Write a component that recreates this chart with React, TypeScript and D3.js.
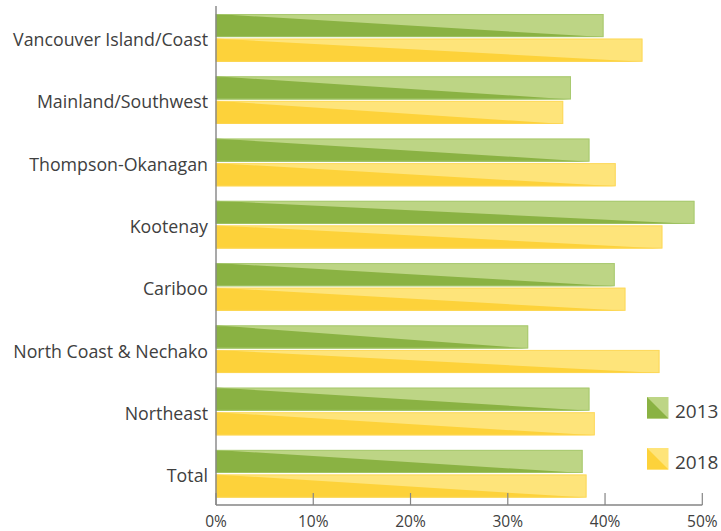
import React from "react";
import * as d3 from "d3";

const categories = [
  "Vancouver Island/Coast",
  "Mainland/Southwest",
  "Thompson-Okanagan",
  "Kootenay",
  "Cariboo",
  "North Coast & Nechako",
  "Northeast",
  "Total",
];
const values2013 = [39.85, 36.5, 38.4, 49.2, 41.0, 32.1, 38.4, 37.7];
const values2018 = [43.85, 35.7, 41.1, 45.9, 42.1, 45.6, 38.95, 38.1];
const seriesNames = ["2013", "2018"];
const xTicks = [0, 10, 20, 30, 40, 50];

const W = 721;
const H = 531;
const FONT = "'Open Sans', 'Noto Sans', sans-serif";
const TEXT = "#404040";
const AXIS = "#858585";

const palette = [
  { dark: "#8ab243", light: "#bdd585", edge: "#a4c76a" },
  { dark: "#fdd23a", light: "#fee47a", edge: "#fcd655" },
];

export default function App() {
  const x = d3.scaleLinear().domain([0, 50]).range([216, 702.3]);
  const y = d3
    .scaleBand<string>()
    .domain(categories)
    .range([6.6, 505])
    .paddingInner(0.234)
    .paddingOuter(0.119);
  const sub = d3
    .scaleBand<string>()
    .domain(seriesNames)
    .range([0, y.bandwidth()])
    .paddingInner(0.06);

  const series = [values2013, values2018];

  return (
    <svg
      width={W}
      height={H}
      style={{ position: "absolute", left: 0, top: 0, background: "#fff" }}
      fontFamily={FONT}
    >
      {/* bars */}
      {categories.map((c, i) => (
        <g key={c}>
          {series.map((vals, s) => {
            const x0 = x(0);
            const x1 = x(vals[i]);
            const y0 = (y(c) as number) + (sub(seriesNames[s]) as number);
            const y1 = y0 + sub.bandwidth();
            const p = palette[s];
            return (
              <g key={s}>
                <rect
                  x={x0}
                  y={y0}
                  width={x1 - x0}
                  height={y1 - y0}
                  fill={p.light}
                />
                <polygon
                  points={`${x0},${y0} ${x0},${y1} ${x1},${y1}`}
                  fill={p.dark}
                />
                <rect
                  x={x0}
                  y={y0 + 0.5}
                  width={x1 - x0 - 0.5}
                  height={y1 - y0 - 1}
                  fill="none"
                  stroke={p.edge}
                  strokeWidth={1}
                  opacity={0.8}
                />
              </g>
            );
          })}
          <text
            x={208}
            y={(y(c) as number) + y.bandwidth() / 2 + 8.3}
            textAnchor="end"
            fontSize={17.8}
            fill={TEXT}
          >
            {c}
          </text>
        </g>
      ))}

      {/* axes */}
      <line x1={x(0)} x2={x(0)} y1={6} y2={505} stroke={AXIS} strokeWidth={1.4} />
      <line x1={x(0)} x2={x(50)} y1={505} y2={505} stroke={AXIS} strokeWidth={1.4} />
      {xTicks.map((t) => (
        <g key={t}>
          <line x1={x(t)} x2={x(t)} y1={493} y2={505} stroke={AXIS} strokeWidth={1.2} />
          <text
            x={x(t)}
            y={527}
            textAnchor="middle"
            fontSize={15.5}
            fill={TEXT}
          >
            {t + "%"}
          </text>
        </g>
      ))}

      {/* legend */}
      {seriesNames.map((name, s) => {
        const lx = 647;
        const ly = 397 + s * 51;
        const sz = 21.5;
        const p = palette[s];
        return (
          <g key={name}>
            <rect x={lx} y={ly} width={sz} height={sz} fill={p.light} />
            <polygon
              points={`${lx},${ly} ${lx},${ly + sz} ${lx + sz},${ly + sz}`}
              fill={p.dark}
            />
            <text x={675} y={ly + 20.5} fontSize={19} fill={TEXT}>
              {name}
            </text>
          </g>
        );
      })}
    </svg>
  );
}
